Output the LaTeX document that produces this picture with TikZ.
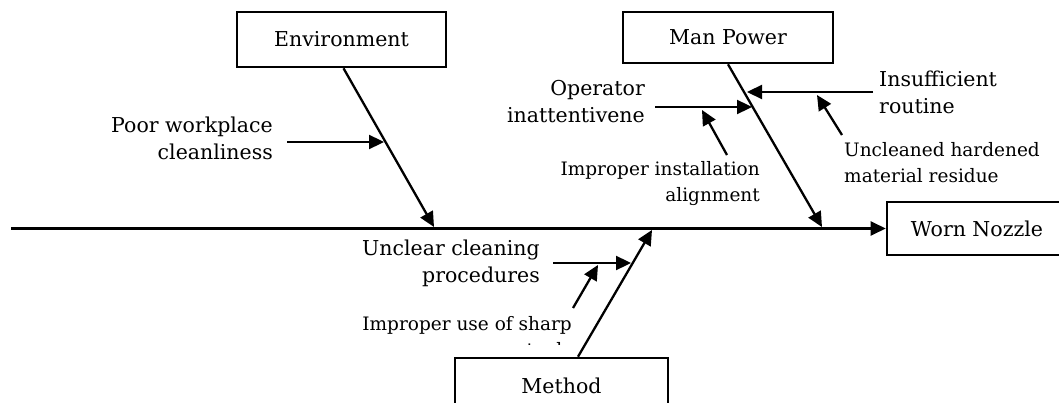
\documentclass[tikz,border=0pt]{standalone}
\usepackage{fontspec}
\setmainfont{DejaVu Serif}
\usetikzlibrary{arrows.meta}
\newcommand\causefont{\fontsize{20.5}{27}\selectfont}
\newcommand\notefont{\fontsize{18.5}{26}\selectfont}
\tikzset{
  catbox/.style={draw, line width=2.6pt, inner sep=0pt, font=\causefont},
  cause/.style={inner sep=0pt, font=\causefont},
  note/.style={inner sep=0pt, font=\notefont},
  bone/.style={line width=2.3pt, -{Triangle[length=15pt,width=14pt]}},
}
\begin{document}
\begin{tikzpicture}[x=1pt,y=-1pt]
  \clip (0,0) rectangle (1059,403);

  % category boxes and the effect
  \node[catbox, minimum width=209pt, minimum height=55pt] (env) at (341.5,39.5) {Environment};
  \node[catbox, minimum width=210pt, minimum height=51pt] (man) at (728,37.5) {Man Power};
  \node[catbox, minimum width=213pt, minimum height=55pt] (met) at (561.5,385.5) {Method};
  \node[catbox, minimum width=180pt, minimum height=53pt] (eff) at (977,228.5) {Worn Nozzle};

  % spine
  \coordinate (spinetail) at (11,228.5);
  \draw[bone] (spinetail) -- (eff.west);

  % main bones
  \coordinate (envtip) at (434,227);
  \coordinate (mantip) at (822,227);
  \coordinate (mettip) at (652,230);
  \draw[bone] ([xshift=2pt]env.south) -- (envtip);
  \draw[bone] (man.south) -- (mantip);
  \draw[bone] ([xshift=16.5pt]met.north) -- (mettip);

  % cause labels (anchored on the baseline of their last line)
  \node[cause, align=right, anchor=base east] (poor) at (273,160) {Poor workplace\\cleanliness};
  \node[cause, align=right, anchor=base east] (oper) at (645,123) {Operator\\inattentivene};
  \node[note, align=right, anchor=base east] (inst) at (760,202) {Improper installation\\alignment};
  \node[cause, align=left, anchor=base west] (insuf) at (879,114) {Insufficient\\routine};
  \node[note, align=left, anchor=base west] (uncl) at (844,183) {Uncleaned hardened\\material residue};
  \node[cause, align=right, anchor=base east] (proc) at (540,282) {Unclear cleaning\\procedures};
  \begin{scope}
    \clip (300,300) rectangle (640,344);
    \node[note, align=right, anchor=base east] (sharp) at (572,356) {Improper use of sharp\\tools};
  \end{scope}

  % cause arrows
  \coordinate (poortail) at (287,142);   \coordinate (poortip) at (384,142);
  \coordinate (opertail) at (655,107);   \coordinate (opertip) at (752,107);
  \coordinate (insttail) at (727,155);   \coordinate (insttip) at (702,110);
  \coordinate (insuftail) at (873,92);   \coordinate (insuftip) at (747,92);
  \coordinate (uncltail) at (842,135);   \coordinate (uncltip) at (817,95);
  \coordinate (proctail) at (553,263);   \coordinate (proctip) at (631,263);
  \coordinate (sharptail) at (573,308);  \coordinate (sharptip) at (598,265);
  \draw[bone] (poortail) -- (poortip);
  \draw[bone] (opertail) -- (opertip);
  \draw[bone] (insttail) -- (insttip);
  \draw[bone] (insuftail) -- (insuftip);
  \draw[bone] (uncltail) -- (uncltip);
  \draw[bone] (proctail) -- (proctip);
  \draw[bone] (sharptail) -- (sharptip);
\end{tikzpicture}
\end{document}
